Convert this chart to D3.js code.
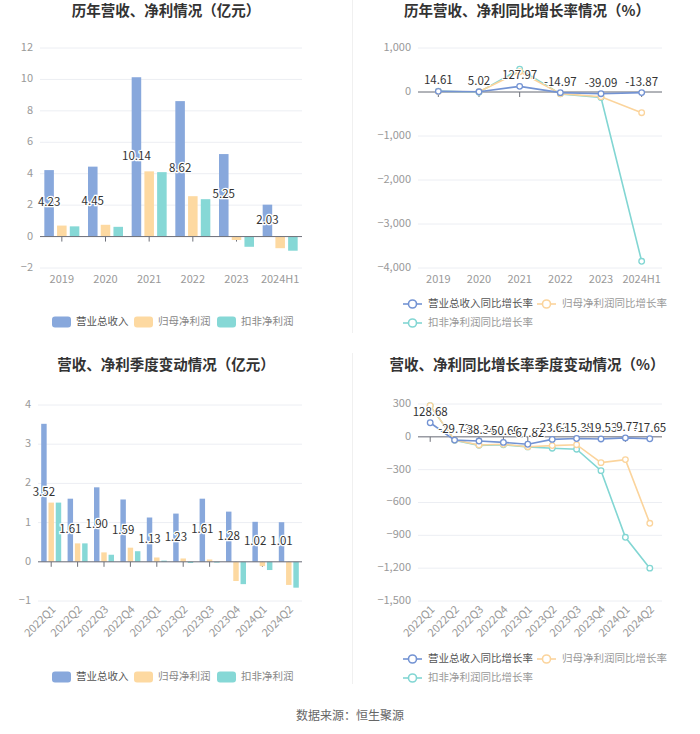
<!DOCTYPE html>
<html><head><meta charset="utf-8">
<script src="https://cdn.jsdelivr.net/npm/d3@7/dist/d3.min.js"></script>
<style>
body{margin:0;background:#fff;}
svg text{font-family:"Noto Sans CJK SC","Noto Sans",sans-serif;}
</style></head>
<body><svg id="c" width="700" height="734"></svg>
<script>
const years = ["2019","2020","2021","2022","2023","2024H1"];
const revenue = [4.23,4.45,10.14,8.62,5.25,2.03];
const netProfit = [0.70,0.75,4.15,2.57,-0.22,-0.74];
const deductProfit = [0.65,0.62,4.10,2.38,-0.65,-0.90];

const revGrowth = [14.61,5.02,127.97,-14.97,-39.09,-13.87];
const netGrowth = [10,7,460,-38,-108,-470];
const dedGrowth = [20,-5,520,-42,-125,-3848];

const quarters = ["2022Q1","2022Q2","2022Q3","2022Q4","2023Q1","2023Q2","2023Q3","2023Q4","2024Q1","2024Q2"];
const qRevenue = [3.52,1.61,1.90,1.59,1.13,1.23,1.61,1.28,1.02,1.01];
const qNet = [1.51,0.47,0.24,0.36,0.11,0.085,0.06,-0.49,-0.11,-0.59];
const qDeduct = [1.51,0.47,0.18,0.27,0.03,-0.03,-0.02,-0.57,-0.21,-0.66];

const qRevGrowth = [128.68,-29.73,-38.34,-50.69,-67.82,-23.63,-15.38,-19.53,-9.77,-17.65];
const qNetGrowth = [285,-30,-74,-68,-90,-80,-72,-236,-208,-790];
const qDedGrowth = [285,-32,-78,-72,-92,-104,-113,-309,-918,-1200];

const barNames = ["营业总收入","归母净利润","扣非净利润"];
const lineNames = ["营业总收入同比增长率","归母净利润同比增长率","扣非净利润同比增长率"];
const barColors = ["#88a8dc","#fdd9a1","#86d8d6"];
const lineColors = ["#7393d3","#fbd49c","#82d6d3"];

const svg = d3.select("#c");

function title(x,y,t){
  svg.append("text").attr("x",x).attr("y",y).attr("text-anchor","middle")
    .attr("dominant-baseline","middle").attr("font-size",14.5).attr("font-weight","bold")
    .attr("fill","#333").text(t);
}
title(166,12,"历年营收、净利情况（亿元）");
title(527,12,"历年营收、净利同比增长率情况（%）");
title(166,366,"营收、净利季度变动情况（亿元）");
title(527,366,"营收、净利同比增长率季度变动情况（%）");

svg.append("line").attr("x1",352.5).attr("x2",352.5).attr("y1",0).attr("y2",333).attr("stroke","#f0f0f0");
svg.append("line").attr("x1",352.5).attr("x2",352.5).attr("y1",353).attr("y2",684).attr("stroke","#f0f0f0");

svg.append("text").attr("x",350).attr("y",717).attr("text-anchor","middle").attr("dominant-baseline","middle")
  .attr("font-size",12).attr("fill","#666").text("数据来源：恒生聚源");

function yAxisGrid(g, y, ticks, x0, x1, fmt){
  ticks.forEach(t=>{
    g.append("line").attr("x1",x0).attr("x2",x1).attr("y1",y(t)).attr("y2",y(t))
      .attr("stroke","#eceef3").attr("stroke-width",1);
    g.append("text").attr("x",x0-7).attr("y",y(t)).attr("text-anchor","end")
      .attr("dominant-baseline","middle").attr("font-size",11).attr("fill","#999").text(fmt(t));
  });
}
function zeroTicks(g, x, y, cats){
  cats.forEach(c=>{
    const cx = x(c)+x.bandwidth()/2;
    g.append("line").attr("x1",cx).attr("x2",cx).attr("y1",y(0)).attr("y2",y(0)+5).attr("stroke","#6e7079");
  });
}
function zeroLine(g, y, x0, x1){
  g.append("line").attr("x1",x0).attr("x2",x1).attr("y1",y(0)).attr("y2",y(0)).attr("stroke","#6e7079");
}
function xLabels(g, x, cats, yPos, rotate){
  cats.forEach(c=>{
    const cx = x(c)+x.bandwidth()/2;
    if(rotate){
      g.append("text").attr("transform",`translate(${cx+3},${yPos}) rotate(-45)`)
        .attr("text-anchor","end").attr("dominant-baseline","middle")
        .attr("font-size",11).attr("fill","#999").text(c);
    } else {
      g.append("text").attr("x",cx).attr("y",yPos).attr("text-anchor","middle")
        .attr("dominant-baseline","middle").attr("font-size",11).attr("fill","#999").text(c);
    }
  });
}
function barLegend(y){
  const xs=[52,134,217];
  barNames.forEach((n,i)=>{
    svg.append("rect").attr("x",xs[i]).attr("y",y-5.5).attr("width",19).attr("height",11).attr("rx",3)
      .attr("fill",barColors[i]);
    svg.append("text").attr("x",xs[i]+24).attr("y",y).attr("dominant-baseline","middle")
      .attr("font-size",10.5).attr("fill",i===0?"#555":"#888").text(n);
  });
}
function lineLegend(y1,y2){
  const pos=[[403,y1],[537,y1],[403,y2]];
  lineNames.forEach((n,i)=>{
    const [x,y]=pos[i];
    svg.append("line").attr("x1",x).attr("x2",x+19).attr("y1",y).attr("y2",y)
      .attr("stroke",lineColors[i]).attr("stroke-width",1.6);
    svg.append("circle").attr("cx",x+9.5).attr("cy",y).attr("r",4).attr("fill","#fff")
      .attr("stroke",lineColors[i]).attr("stroke-width",1.6);
    svg.append("text").attr("x",x+25).attr("y",y).attr("dominant-baseline","middle")
      .attr("font-size",10.5).attr("fill",i===0?"#555":"#999").text(n);
  });
}

function barChart(cats, series, labels, x0, x1, yTop, yBot, dom, ticks, groupHalf, rotate, labelY){
  const g = svg.append("g");
  const x = d3.scaleBand().domain(cats).range([x0,x1]);
  const y = d3.scaleLinear().domain(dom).range([yBot,yTop]);
  yAxisGrid(g,y,ticks,x0,x1,d=>d3.format("d")(d));
  zeroTicks(g,x,y,cats);
  cats.forEach((c,ci)=>{
    const cx = x(c)+x.bandwidth()/2;
    const sub = d3.scaleBand().domain([0,1,2]).range([cx-groupHalf,cx+groupHalf]).paddingInner(0.25);
    series.forEach((s,si)=>{
      const v=s[ci];
      g.append("rect").attr("x",sub(si)).attr("width",sub.bandwidth())
        .attr("y",Math.min(y(v),y(0))).attr("height",Math.abs(y(v)-y(0)))
        .attr("fill",barColors[si]);
    });
  });
  zeroLine(g,y,x0,x1);
  cats.forEach((c,ci)=>{
    const cx = x(c)+x.bandwidth()/2;
    const sub = d3.scaleBand().domain([0,1,2]).range([cx-groupHalf,cx+groupHalf]).paddingInner(0.25);
    const v=series[0][ci];
    g.append("text").attr("x",sub(0)+sub.bandwidth()/2).attr("y",(y(v)+y(0))/2)
      .attr("text-anchor","middle").attr("dominant-baseline","middle").attr("font-size",11.5)
      .attr("fill","#333").attr("stroke","#fff").attr("stroke-width",2.5).attr("paint-order","stroke")
      .text(labels[ci]);
  });
  xLabels(g,x,cats,labelY,rotate);
}

function lineChart(cats, series, labels, x0, x1, yTop, yBot, dom, ticks, rotate, labelY){
  const g = svg.append("g");
  const x = d3.scaleBand().domain(cats).range([x0,x1]);
  const y = d3.scaleLinear().domain(dom).range([yBot,yTop]);
  yAxisGrid(g,y,ticks,x0,x1,d=>d3.format(",")(d));
  zeroTicks(g,x,y,cats);
  zeroLine(g,y,x0,x1);
  const cx = c=>x(c)+x.bandwidth()/2;
  [2,1,0].forEach(si=>{
    const s=series[si];
    const line=d3.line().x((d,i)=>cx(cats[i])).y(d=>y(d));
    g.append("path").attr("d",line(s)).attr("fill","none").attr("stroke",lineColors[si]).attr("stroke-width",1.6);
    s.forEach((v,i)=>{
      g.append("circle").attr("cx",cx(cats[i])).attr("cy",y(v)).attr("r",2.8)
        .attr("fill","#fff").attr("stroke",lineColors[si]).attr("stroke-width",1.3);
    });
  });
  series[0].forEach((v,i)=>{
    g.append("text").attr("x",cx(cats[i])).attr("y",y(v)-7).attr("text-anchor","middle")
      .attr("font-size",11.5).attr("fill","#333").attr("stroke","#fff").attr("stroke-width",2)
      .attr("paint-order","stroke").text(labels[i]);
  });
  xLabels(g,x,cats,labelY,rotate);
}

barChart(years,[revenue,netProfit,deductProfit],revenue.map(d=>d.toFixed(2)),40,302,48,268,[-2,12],[-2,0,2,4,6,8,10,12],17.5,false,280);
barLegend(322);
lineChart(years,[revGrowth,netGrowth,dedGrowth],revGrowth.map(d=>d.toFixed(2)),418,662,48,268,[-4000,1000],[-4000,-3000,-2000,-1000,0,1000],false,280);
lineLegend(304,323);

barChart(quarters,[qRevenue,qNet,qDeduct],qRevenue.map(d=>d.toFixed(2)),38,302,405,601,[-1,4],[-1,0,1,2,3,4],10,true,608);
barLegend(677);
lineChart(quarters,[qRevGrowth,qNetGrowth,qDedGrowth],qRevGrowth.map(d=>d.toFixed(2)),418,662,404,601,[-1500,300],[-1500,-1200,-900,-600,-300,0,300],true,608);
lineLegend(659,678);
</script></body></html>
